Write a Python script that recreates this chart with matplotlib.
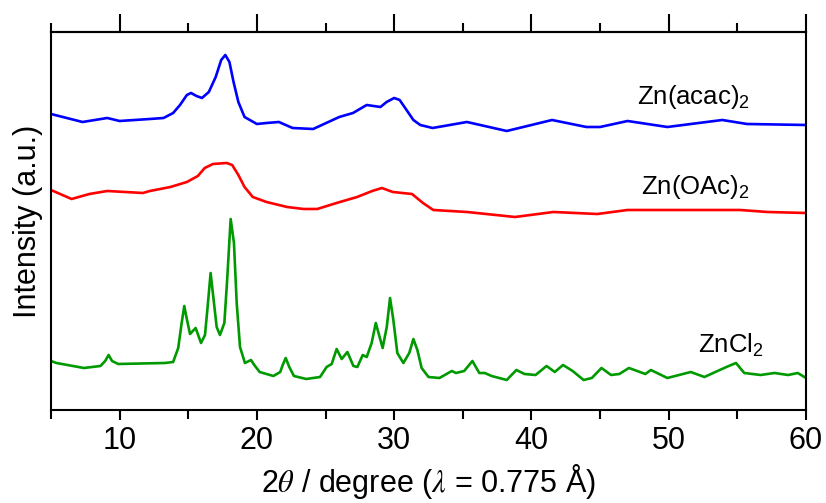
import matplotlib
matplotlib.use("Agg")
import matplotlib.pyplot as plt
from matplotlib.ticker import MultipleLocator, NullFormatter

plt.rcParams['font.family'] = ['Liberation Sans', 'DejaVu Sans']
plt.rcParams['mathtext.fontset'] = 'stix'

# Zn(acac)2 pattern (2theta in degree, intensity in a.u.)
acac_x = [5.0, 7.3, 9.1, 10.0, 12.2, 13.2, 13.9, 14.4, 14.9, 15.2, 15.6,
          16.0, 16.5, 17.0, 17.4, 17.7, 18.0, 18.3, 18.65, 19.1, 20.0,
          20.7, 21.6, 22.6, 24.1, 26.0, 27.0, 28.0, 28.5, 29.0, 29.45, 30.0,
          30.4, 31.0, 31.4, 31.9, 32.8, 35.3, 38.2, 41.5, 44.0, 45.0, 47.0,
          49.9, 53.9, 55.7, 60.0]
acac_y = [296, 288, 292, 289, 291, 292, 297, 305, 315, 317, 314,
          312, 318, 333, 350, 355, 348, 328, 308, 293, 286,
          287, 288, 282, 281, 293, 297, 305, 304, 303, 308, 312,
          310, 298, 290, 285, 282, 288, 279, 290, 283, 283, 289,
          283, 290, 286, 285]

# Zn(OAc)2 pattern
oac_x = [5.0, 6.5, 7.8, 9.1, 11.7, 12.2, 13.7, 14.9, 15.7, 16.2, 16.8,
         17.8, 18.2, 18.65, 19.1, 19.7, 20.7, 22.2, 23.4, 24.4, 25.8,
         27.3, 28.4, 29.1, 29.9, 31.3, 32.1, 32.85, 35.3, 38.8, 41.6,
         44.8, 47.0, 55.2, 57.2, 60.0]
oac_y = [220, 211, 216, 219, 217, 219, 223, 228, 234, 242, 246,
         247, 245, 235, 223, 213, 208, 203, 201, 201, 207,
         213, 219, 222, 218, 216, 207, 200, 198, 193, 198,
         196, 200, 200, 198, 197]

# ZnCl2 pattern
cl_x = [5.0, 5.4, 7.4, 8.6, 8.95, 9.2, 9.45, 9.9, 13.3, 13.9, 14.27, 14.52,
        14.71, 14.91, 15.13, 15.54, 15.93, 16.22, 16.41, 16.63, 16.85,
        17.07, 17.31, 17.63, 17.82, 18.09, 18.33, 18.53, 18.77, 19.13,
        19.57, 19.81, 20.2, 21.2, 21.7, 21.88, 22.1, 22.36, 22.7, 23.6,
        24.6, 25.08, 25.45, 25.81, 26.18, 26.59, 27.03, 27.32, 27.71, 28.0,
        28.36, 28.66, 28.9, 29.16, 29.46, 29.7, 29.94, 30.23, 30.67, 31.1,
        31.4, 31.69, 32.0, 32.5, 33.3, 34.2, 34.5, 35.1, 35.7, 36.2, 36.6,
        37.1, 38.2, 38.9, 39.5, 40.3, 41.1, 41.7, 42.3, 43.0, 43.8, 44.4,
        45.1, 45.8, 46.4, 47.1, 48.3, 48.7, 49.9, 51.6, 52.6, 54.2, 54.9,
        55.5, 56.7, 57.7, 58.7, 59.4, 60.0]
cl_y = [49, 47, 42, 44, 49, 55, 49, 46, 47, 48, 62, 87,
        104, 90, 76, 82, 67, 75, 103, 137, 110,
        83, 75, 87, 127, 191, 167, 107, 63, 47,
        50, 45, 38, 34, 38, 45, 52, 43, 34, 31,
        33, 43, 46, 61, 51, 58, 44, 43, 55, 53,
        67, 87, 75, 62, 83, 112, 90, 57, 47, 57,
        71, 60, 42, 33, 32, 39, 37, 39, 49, 37, 37,
        34, 30, 40, 36, 35, 44, 38, 45, 39, 30, 32,
        42, 35, 36, 42, 36, 40, 32, 38, 33, 43, 47,
        37, 35, 37, 35, 37, 32]

labels = [r'Zn(acac)$\mathregular{_2}$', r'Zn(OAc)$\mathregular{_2}$',
          r'ZnCl$\mathregular{_2}$']
label_pos = [(47.7, 313), (48.0, 223), (52.1, 65)]
colors = ['#0000ff', '#ff0000', '#009a00']

fig = plt.figure(figsize=(8.26, 5.03), dpi=100)
ax = fig.add_axes([0.0617, 0.1849, 0.9141, 0.7515])

for xs, ys, c in [(acac_x, acac_y, colors[0]), (oac_x, oac_y, colors[1]),
                  (cl_x, cl_y, colors[2])]:
    ax.plot(xs, ys, color=c, lw=1.9, solid_joinstyle='round')

for (tx, ty), lab in zip(label_pos, labels):
    ax.text(tx, ty, lab, fontsize=18.5, ha='left', va='center')

ax.set_xlim(5, 60)
ax.set_ylim(0, 378)
ax.set_yticks([])
ax.xaxis.set_major_locator(MultipleLocator(10))
ax.xaxis.set_minor_locator(MultipleLocator(5))
ax.tick_params(axis='x', which='both', direction='out', width=1.5,
               labelsize=22, pad=4)
ax.tick_params(axis='x', which='major', length=7.5)
ax.tick_params(axis='x', which='minor', length=6.5)
for s in ax.spines.values():
    s.set_linewidth(1.5)

top = ax.secondary_xaxis('top')
top.xaxis.set_major_locator(MultipleLocator(10))
top.xaxis.set_minor_locator(MultipleLocator(5))
top.xaxis.set_major_formatter(NullFormatter())
top.tick_params(which='both', direction='out', width=1.5)
top.tick_params(which='major', length=13)
top.tick_params(which='minor', length=6.5)
top.spines['top'].set_linewidth(1.5)

ax.set_xlabel(r'2$\theta$ / degree ($\lambda$ = 0.775 Å)', fontsize=22,
              labelpad=4)
ax.set_ylabel('Intensity (a.u.)', fontsize=22, labelpad=6)

fig.savefig('out.png', dpi=100)
